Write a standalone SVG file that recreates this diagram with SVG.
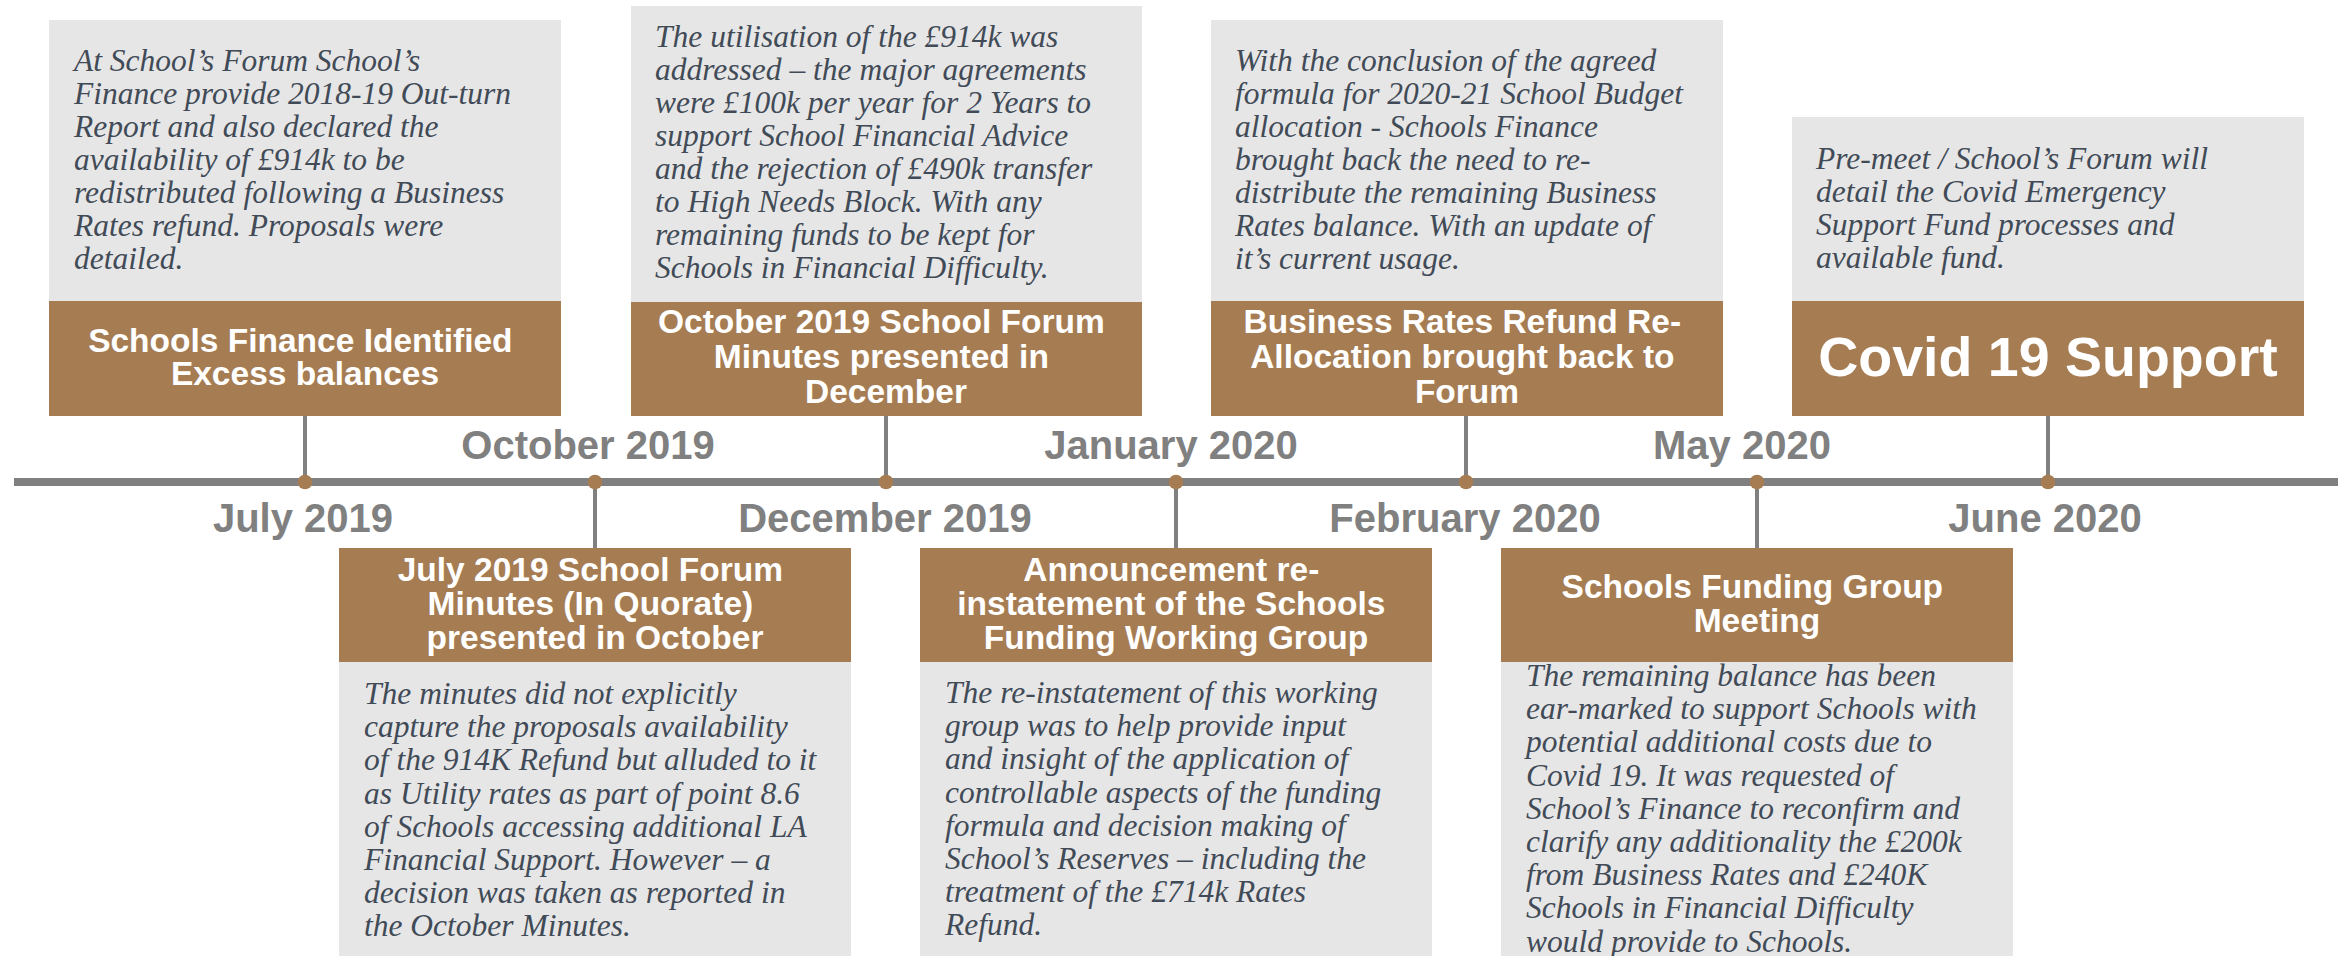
<svg xmlns="http://www.w3.org/2000/svg" width="2346" height="956" viewBox="0 0 2346 956">
  <style>
    .card { fill: #e7e6e6; }
    .band { fill: #a67c52; }
    .body { font-family: "Liberation Serif", "Times New Roman", serif; font-style: italic; font-size: 31.5px; fill: #414b57; }
    .head { font-family: "Liberation Sans", Arial, sans-serif; font-weight: bold; font-size: 33.5px; fill: #ffffff; text-anchor: middle; }
    .big { font-size: 55.5px; }
    .date { font-family: "Liberation Sans", Arial, sans-serif; font-weight: bold; font-size: 40px; fill: #808080; text-anchor: middle; }
    .axis { stroke: #808080; stroke-width: 8; }
    .stem { stroke: #808080; stroke-width: 4; }
    .dot { fill: #a67c52; }
  </style>
  <rect width="2346" height="956" fill="#ffffff"/>

  <!-- timeline axis, stems and markers -->
  <g id="connectors">
    <line class="axis" x1="14" y1="482" x2="2338" y2="482"/>
    <line class="stem" x1="305" y1="416" x2="305" y2="482"/>
    <line class="stem" x1="886" y1="416" x2="886" y2="482"/>
    <line class="stem" x1="1466" y1="416" x2="1466" y2="482"/>
    <line class="stem" x1="2048" y1="416" x2="2048" y2="482"/>
    <line class="stem" x1="595" y1="482" x2="595" y2="548"/>
    <line class="stem" x1="1176" y1="482" x2="1176" y2="548"/>
    <line class="stem" x1="1757" y1="482" x2="1757" y2="548"/>
    <circle class="dot" cx="305" cy="482" r="7.3"/>
    <circle class="dot" cx="595" cy="482" r="7.3"/>
    <circle class="dot" cx="886" cy="482" r="7.3"/>
    <circle class="dot" cx="1176" cy="482" r="7.3"/>
    <circle class="dot" cx="1466" cy="482" r="7.3"/>
    <circle class="dot" cx="1757" cy="482" r="7.3"/>
    <circle class="dot" cx="2048" cy="482" r="7.3"/>
  </g>

  <!-- month labels along the axis -->
  <g id="dates">
    <text class="date" x="303" y="532">July 2019</text>
    <text class="date" x="588" y="459">October 2019</text>
    <text class="date" x="885" y="532">December 2019</text>
    <text class="date" x="1171" y="459">January 2020</text>
    <text class="date" x="1465" y="532">February 2020</text>
    <text class="date" x="1742" y="459">May 2020</text>
    <text class="date" x="2045" y="532">June 2020</text>
  </g>

  <g id="excess-balances">
    <rect class="card" x="49" y="20" width="512" height="281"/>
    <rect class="band" x="49" y="301" width="512" height="115"/>
    <text class="body" x="74" y="70.7">
      <tspan x="74" y="70.7">At School’s Forum School’s</tspan>
      <tspan x="74" dy="33.1">Finance provide 2018-19 Out-turn</tspan>
      <tspan x="74" dy="33.1">Report and also declared the</tspan>
      <tspan x="74" dy="33.1">availability of £914k to be</tspan>
      <tspan x="74" dy="33.1">redistributed following a Business</tspan>
      <tspan x="74" dy="33.1">Rates refund. Proposals were</tspan>
      <tspan x="74" dy="33.1">detailed.</tspan>
    </text>
    <text class="head" x="305" y="352">
      <tspan x="305" y="352">Schools Finance Identified</tspan>
      <tspan x="305" dy="33">Excess balances</tspan>
    </text>
  </g>

  <g id="july-minutes">
    <rect class="band" x="339" y="548" width="512" height="114"/>
    <rect class="card" x="339" y="662" width="512" height="294"/>
    <text class="head" x="595" y="581">
      <tspan x="595" y="581">July 2019 School Forum</tspan>
      <tspan x="595" dy="34">Minutes (In Quorate)</tspan>
      <tspan x="595" dy="34">presented in October</tspan>
    </text>
    <text class="body" x="364" y="704">
      <tspan x="364" y="704">The minutes did not explicitly</tspan>
      <tspan x="364" dy="33.2">capture the proposals availability</tspan>
      <tspan x="364" dy="33.2">of the 914K Refund but alluded to it</tspan>
      <tspan x="364" dy="33.2">as Utility rates as part of point 8.6</tspan>
      <tspan x="364" dy="33.2">of Schools accessing additional LA</tspan>
      <tspan x="364" dy="33.2">Financial Support. However – a</tspan>
      <tspan x="364" dy="33.2">decision was taken as reported in</tspan>
      <tspan x="364" dy="33.2">the October Minutes.</tspan>
    </text>
  </g>

  <g id="october-minutes">
    <rect class="card" x="631" y="6" width="511" height="296"/>
    <rect class="band" x="631" y="302" width="511" height="114"/>
    <text class="body" x="655" y="46.7">
      <tspan x="655" y="46.7">The utilisation of the £914k was</tspan>
      <tspan x="655" dy="33">addressed – the major agreements</tspan>
      <tspan x="655" dy="33">were £100k per year for 2 Years to</tspan>
      <tspan x="655" dy="33">support School Financial Advice</tspan>
      <tspan x="655" dy="33">and the rejection of £490k transfer</tspan>
      <tspan x="655" dy="33">to High Needs Block. With any</tspan>
      <tspan x="655" dy="33">remaining funds to be kept for</tspan>
      <tspan x="655" dy="33">Schools in Financial Difficulty.</tspan>
    </text>
    <text class="head" x="886" y="333">
      <tspan x="886" y="333">October 2019 School Forum</tspan>
      <tspan x="886" dy="35">Minutes presented in</tspan>
      <tspan x="886" dy="35">December</tspan>
    </text>
  </g>

  <g id="working-group">
    <rect class="band" x="920" y="548" width="512" height="114"/>
    <rect class="card" x="920" y="662" width="512" height="294"/>
    <text class="head" x="1176" y="581">
      <tspan x="1176" y="581">Announcement re-</tspan>
      <tspan x="1176" dy="34">instatement of the Schools</tspan>
      <tspan x="1176" dy="34">Funding Working Group</tspan>
    </text>
    <text class="body" x="945" y="703">
      <tspan x="945" y="703">The re-instatement of this working</tspan>
      <tspan x="945" dy="33.2">group was to help provide input</tspan>
      <tspan x="945" dy="33.2">and insight of the application of</tspan>
      <tspan x="945" dy="33.2">controllable aspects of the funding</tspan>
      <tspan x="945" dy="33.2">formula and decision making of</tspan>
      <tspan x="945" dy="33.2">School’s Reserves – including the</tspan>
      <tspan x="945" dy="33.2">treatment of the £714k Rates</tspan>
      <tspan x="945" dy="33.2">Refund.</tspan>
    </text>
  </g>

  <g id="rates-reallocation">
    <rect class="card" x="1211" y="20" width="512" height="281"/>
    <rect class="band" x="1211" y="301" width="512" height="115"/>
    <text class="body" x="1235" y="70.7">
      <tspan x="1235" y="70.7">With the conclusion of the agreed</tspan>
      <tspan x="1235" dy="33">formula for 2020-21 School Budget</tspan>
      <tspan x="1235" dy="33">allocation - Schools Finance</tspan>
      <tspan x="1235" dy="33">brought back the need to re-</tspan>
      <tspan x="1235" dy="33">distribute the remaining Business</tspan>
      <tspan x="1235" dy="33">Rates balance. With an update of</tspan>
      <tspan x="1235" dy="33">it’s current usage.</tspan>
    </text>
    <text class="head" x="1467" y="333">
      <tspan x="1467" y="333">Business Rates Refund Re-</tspan>
      <tspan x="1467" dy="35">Allocation brought back to</tspan>
      <tspan x="1467" dy="35">Forum</tspan>
    </text>
  </g>

  <g id="funding-group-meeting">
    <rect class="band" x="1501" y="548" width="512" height="114"/>
    <rect class="card" x="1501" y="662" width="512" height="294"/>
    <text class="head" x="1757" y="598">
      <tspan x="1757" y="598">Schools Funding Group</tspan>
      <tspan x="1757" dy="34">Meeting</tspan>
    </text>
    <text class="body" x="1526" y="686">
      <tspan x="1526" y="686">The remaining balance has been</tspan>
      <tspan x="1526" dy="33.2">ear-marked to support Schools with</tspan>
      <tspan x="1526" dy="33.2">potential additional costs due to</tspan>
      <tspan x="1526" dy="33.2">Covid 19. It was requested of</tspan>
      <tspan x="1526" dy="33.2">School’s Finance to reconfirm and</tspan>
      <tspan x="1526" dy="33.2">clarify any additionality the £200k</tspan>
      <tspan x="1526" dy="33.2">from Business Rates and £240K</tspan>
      <tspan x="1526" dy="33.2">Schools in Financial Difficulty</tspan>
      <tspan x="1526" dy="33.2">would provide to Schools.</tspan>
    </text>
  </g>

  <g id="covid-support">
    <rect class="card" x="1792" y="117" width="512" height="184"/>
    <rect class="band" x="1792" y="301" width="512" height="115"/>
    <text class="body" x="1816" y="168.5">
      <tspan x="1816" y="168.5">Pre-meet / School’s Forum will</tspan>
      <tspan x="1816" dy="33.2">detail the Covid Emergency</tspan>
      <tspan x="1816" dy="33.2">Support Fund processes and</tspan>
      <tspan x="1816" dy="33.2">available fund.</tspan>
    </text>
    <text class="head big" x="2048" y="376">Covid 19 Support</text>
  </g>
</svg>
